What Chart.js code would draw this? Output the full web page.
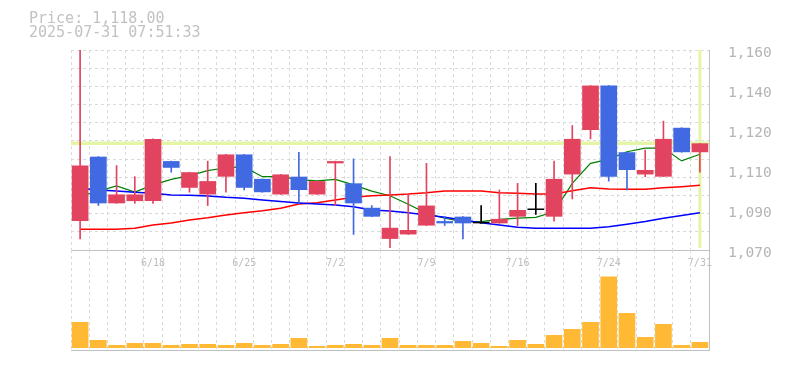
<!DOCTYPE html>
<html>
<head>
<meta charset="utf-8">
<script src="https://cdn.jsdelivr.net/npm/chart.js@4.4.1/dist/chart.umd.min.js"></script>
<style>
  body { margin: 0; background: #fff; }
  #wrap { position: relative; width: 785px; height: 370px; }
  #info { position: absolute; left: 29px; top: 11px; font: 15px/14px "DejaVu Sans Mono", monospace; color: #c2c2c2; white-space: pre; }
  canvas { position: absolute; left: 0; }
  #priceChart { top: 0; }
  #volChart { top: 250px; }
</style>
</head>
<body>
<div id="wrap">
  <canvas id="priceChart" width="785" height="280"></canvas>
  <canvas id="volChart" width="785" height="120"></canvas>
  <div id="info">Price: 1,118.00<br>2025-07-31 07:51:33</div>
</div>
<script>
var categories = ['6/12','6/13','6/16','6/17','6/18','6/19','6/20','6/23','6/24','6/25','6/26','6/27','6/30','7/1','7/2','7/3','7/4','7/7','7/8','7/9','7/10','7/11','7/14','7/15','7/16','7/17','7/18','7/22','7/23','7/24','7/25','7/28','7/29','7/30','7/31'];
var xTickLabels = ['6/18','6/25','7/2','7/9','7/16','7/24','7/31'];

var opens  = [1083,1112,1091,1092,1092,1110,1098,1095,1103,1113,1102,1095,1103,1095,1109,1100,1089,1075,1077,1081,1083,1085,1082,1082,1085,1088,1085,1104,1124,1144,1114,1104,1103,1125,1114];
var closes = [1108,1091,1095,1095,1120,1107,1105,1101,1113,1098,1096,1104,1097,1101,1110,1091,1085,1080,1079,1090,1082,1082,1082,1084,1088,1088,1102,1120,1144,1103,1106,1106,1120,1114,1118];
var highs  = [1160,1112,1108,1103,1120,1110,1105,1110,1113,1113,1102,1104,1114,1101,1110,1111,1090,1112,1095,1109,1085,1085,1090,1097,1100,1100,1110,1126,1144,1144,1114,1115,1128,1125,1118];
var lows   = [1075,1090,1091,1091,1091,1105,1096,1090,1096,1097,1096,1095,1091,1095,1090,1077,1085,1071,1077,1081,1081,1075,1082,1082,1081,1086,1083,1093,1120,1101,1097,1103,1103,1114,1105];

var ma5  = [1094.3,1096.5,1098.8,1096.1,1099.3,1101.8,1103.5,1105.7,1107.0,1107.4,1103.0,1103.0,1101.7,1101.1,1101.8,1099.3,1096.5,1094.4,1090.6,1086.5,1084.3,1082.8,1082.8,1083.8,1084.3,1084.7,1087.2,1100.0,1109.0,1110.8,1114.2,1115.8,1115.9,1110.1,1113.1];
var ma25 = [1079.3,1079.3,1079.3,1079.8,1081.3,1082.2,1083.5,1084.5,1085.8,1086.8,1087.7,1088.8,1090.7,1091.3,1092.5,1093.7,1094.4,1094.8,1095.2,1095.8,1096.6,1096.6,1096.6,1095.8,1095.5,1095.2,1095.2,1096.7,1098.0,1097.5,1097.3,1097.3,1098.0,1098.5,1099.1];
var ma75 = [1097.8,1097.0,1096.6,1096.0,1095.5,1094.8,1094.6,1094.3,1093.7,1093.3,1092.5,1091.8,1091.2,1090.7,1090.3,1089.5,1088.0,1087.6,1086.8,1085.8,1084.7,1083.5,1082.3,1081.3,1080.2,1079.8,1079.8,1079.8,1079.8,1080.5,1081.6,1082.8,1084.3,1085.5,1086.8];

var volumes = [13000,4000,1500,2500,2500,1500,2000,2000,1500,2500,1500,2000,5000,1000,1500,2000,1500,5000,1500,1500,1500,3500,2500,1000,4000,2000,6500,9500,13000,35700,17500,5500,12000,1500,3000];

var priceTicks = [1070,1088,1106,1124,1142,1160];
var priceTickLabels = ['1,070','1,090','1,110','1,120','1,140','1,160'];
var lastPrice = 1118;

var mono = '"DejaVu Sans Mono", monospace';
var gridColor = '#dadada';
var axisColor = '#c0c0c0';
var upColor = '#e2445f', downColor = '#4169e1', flatColor = '#000000';

var candleColors = opens.map(function (o, i) {
  return closes[i] > o ? upColor : (closes[i] < o ? downColor : flatColor);
});

// current price / current day markers, under the candles
var markerPlugin = {
  id: 'marker',
  beforeDatasetsDraw: function (chart) {
    var ctx = chart.ctx, a = chart.chartArea;
    var py = chart.scales.y.getPixelForValue(lastPrice);
    var px = chart.scales.x.getPixelForValue(categories.length - 1);
    ctx.save();
    ctx.strokeStyle = '#e5f5a6';
    ctx.lineWidth = 3.5;
    ctx.beginPath();
    ctx.moveTo(a.left, py);
    ctx.lineTo(a.right, py);
    ctx.stroke();
    ctx.lineWidth = 3;
    ctx.beginPath();
    ctx.moveTo(px, a.top);
    ctx.lineTo(px, a.bottom - 2);
    ctx.stroke();
    ctx.restore();
  }
};

var priceChart = new Chart(document.getElementById('priceChart'), {
  type: 'bar',
  data: {
    labels: categories,
    datasets: [
      { type: 'line', data: ma5, borderColor: '#008000', borderWidth: 1.2, pointRadius: 0, order: 5 },
      { type: 'line', data: ma25, borderColor: '#ff0000', borderWidth: 1.5, pointRadius: 0, order: 4 },
      { type: 'line', data: ma75, borderColor: '#0000ff', borderWidth: 1.5, pointRadius: 0, order: 3 },
      {
        data: lows.map(function (l, i) { return [l, highs[i]]; }),
        backgroundColor: candleColors, barThickness: 1, grouped: false, order: 2
      },
      {
        data: opens.map(function (o, i) { return [o, closes[i]]; }),
        backgroundColor: candleColors, barPercentage: 0.915, categoryPercentage: 1,
        minBarLength: 1.5, grouped: false, order: 1
      }
    ]
  },
  options: {
    responsive: false,
    animation: false,
    layout: { padding: { left: 71, top: 50, right: 0, bottom: 0 } },
    plugins: { legend: { display: false }, tooltip: { enabled: false } },
    scales: {
      x: {
        offset: true,
        grid: { offset: true, color: gridColor, drawTicks: false },
        border: { color: axisColor, dash: [3, 3] },
        ticks: {
          autoSkip: false, maxRotation: 0, padding: 7, color: '#bdbdbd',
          font: { family: mono, size: 10 },
          callback: function (v, i) { return xTickLabels.indexOf(categories[i]) >= 0 ? categories[i] : ''; }
        },
        afterFit: function (s) { s.height = 30; }
      },
      y: {
        position: 'right', min: 1070, max: 1160,
        afterBuildTicks: function (s) { s.ticks = priceTicks.map(function (v) { return { value: v }; }); },
        ticks: {
          padding: 11, labelOffset: 3, color: '#b4b4b4',
          font: { family: mono, size: 14.5 },
          callback: function (v, i) { return priceTickLabels[i]; }
        },
        grid: { display: false },
        border: { color: axisColor },
        afterFit: function (s) { s.width = 76; }
      },
      yg: {
        position: 'right', min: 0, max: 11,
        ticks: { stepSize: 1, display: false },
        grid: { color: gridColor, drawTicks: false },
        border: { display: false, dash: [3, 3] },
        afterFit: function (s) { s.width = 0; }
      }
    }
  },
  plugins: [markerPlugin]
});

var volChart = new Chart(document.getElementById('volChart'), {
  type: 'bar',
  data: {
    labels: categories,
    datasets: [{
      data: volumes, backgroundColor: '#ffb935',
      barPercentage: 0.915, categoryPercentage: 1
    }]
  },
  options: {
    responsive: false,
    animation: false,
    layout: { padding: { left: 71, top: 0, right: 0, bottom: 0 } },
    plugins: { legend: { display: false }, tooltip: { enabled: false } },
    scales: {
      x: {
        offset: true,
        grid: { offset: true, color: gridColor, drawTicks: false },
        border: { color: axisColor, dash: [3, 3] },
        ticks: { display: false },
        afterFit: function (s) { s.height = 20; }
      },
      y: {
        position: 'right', min: -1000, max: 49000,
        ticks: { display: false },
        grid: { display: false },
        border: { color: axisColor },
        afterFit: function (s) { s.width = 76; }
      }
    }
  }
});
</script>
</body>
</html>
